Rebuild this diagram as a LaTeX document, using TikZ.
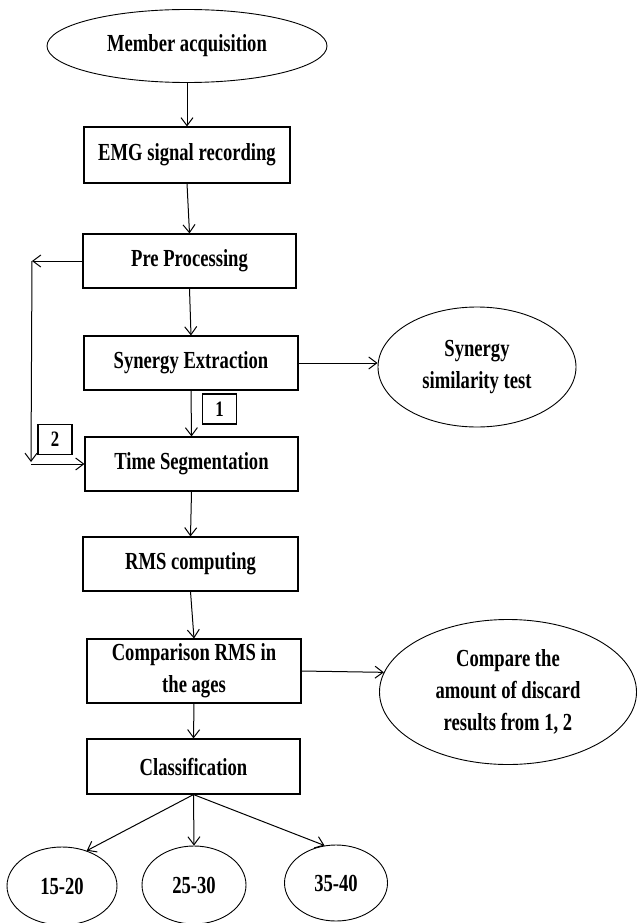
\documentclass[tikz,border=0pt]{standalone}
\usepackage{fontspec}
\setmainfont{Liberation Serif}[FakeStretch=0.76]
\usetikzlibrary{shapes.geometric,arrows.meta}
\tikzset{
  every node/.style={font=\fontsize{24.5}{32}\selectfont\bfseries, inner sep=0pt, align=center},
  stepbox/.style={draw, line width=1.1pt, rectangle},
  oval/.style={draw, line width=0.9pt, ellipse},
  numbox/.style={draw, line width=1.1pt, rectangle, minimum width=34pt, minimum height=30pt, font=\fontsize{22}{24}\selectfont\bfseries},
  arr/.style={line width=1pt, -{Straight Barb[length=8pt,width=12pt,line width=1pt]}},
  plain/.style={line width=1pt}
}
\begin{document}
\begin{tikzpicture}[x=1pt,y=-1pt]
\useasboundingbox (0,0) rectangle (638,923);
\node[oval, minimum width=280pt, minimum height=73pt] (ma) at (187,46) {Member acquisition};
\node[stepbox, minimum width=206pt, minimum height=56pt] (emg) at (187,155) {EMG signal recording};
\node[stepbox, minimum width=213pt, minimum height=54pt] (pre) at (189.5,261) {Pre Processing};
\node[stepbox, minimum width=214pt, minimum height=54pt] (syn) at (191,363) {Synergy Extraction};
\node[stepbox, minimum width=213pt, minimum height=54pt] (ts) at (191.5,464) {Time Segmentation};
\node[stepbox, minimum width=215pt, minimum height=54pt] (rms) at (190.5,564) {RMS computing};
\node[stepbox, minimum width=214pt, minimum height=64pt] (cmp) at (194,671) {Comparison RMS in\\the ages};
\node[stepbox, minimum width=213pt, minimum height=55pt] (cls) at (193.5,766.5) {Classification};
\node[oval, minimum width=198pt, minimum height=120pt] (sst) at (477,367) {Synergy\\similarity test};
\node[oval, minimum width=257pt, minimum height=145pt] (cmpe) at (508,692) {Compare the\\amount of discard\\results from 1, 2};
\node[oval, minimum width=110pt, minimum height=78pt] (e1) at (62,886) {15-20};
\node[oval, minimum width=104pt, minimum height=78pt] (e2) at (194,885) {25-30};
\node[oval, minimum width=103pt, minimum height=76pt] (e3) at (336,883) {35-40};
\node[numbox] (l1) at (219.5,409) {1};
\node[numbox] (l2) at (55,439.5) {2};
\coordinate (A) at (32,261);
\coordinate (B) at (31,462);
\coordinate (C) at (31,464);

\draw[arr] (ma.south) -- (emg.north);
\draw[arr] (emg.south) -- (pre.north);
\draw[arr] (pre.south) -- (syn.north);
\draw[arr] (syn.south) -- (ts.north);
\draw[arr] (ts.south) -- (rms.north);
\draw[arr] (rms.south) -- (cmp.north);
\draw[arr] (cmp.south) -- (cls.north);
\draw[arr] (syn.east) -- (syn.east -| sst.west);
\draw[arr] (cmp.east) -- (cmpe.171);
\draw[arr] (cls.south) -- (e1.55);
\draw[arr] (cls.south) -- (e2.north);
\draw[arr] (cls.south) -- (e3.107);
\draw[arr] (pre.west) -- (A);
\draw[arr] (A) -- (B);
\draw[arr] (C) -- (ts.west);
\end{tikzpicture}
\end{document}
